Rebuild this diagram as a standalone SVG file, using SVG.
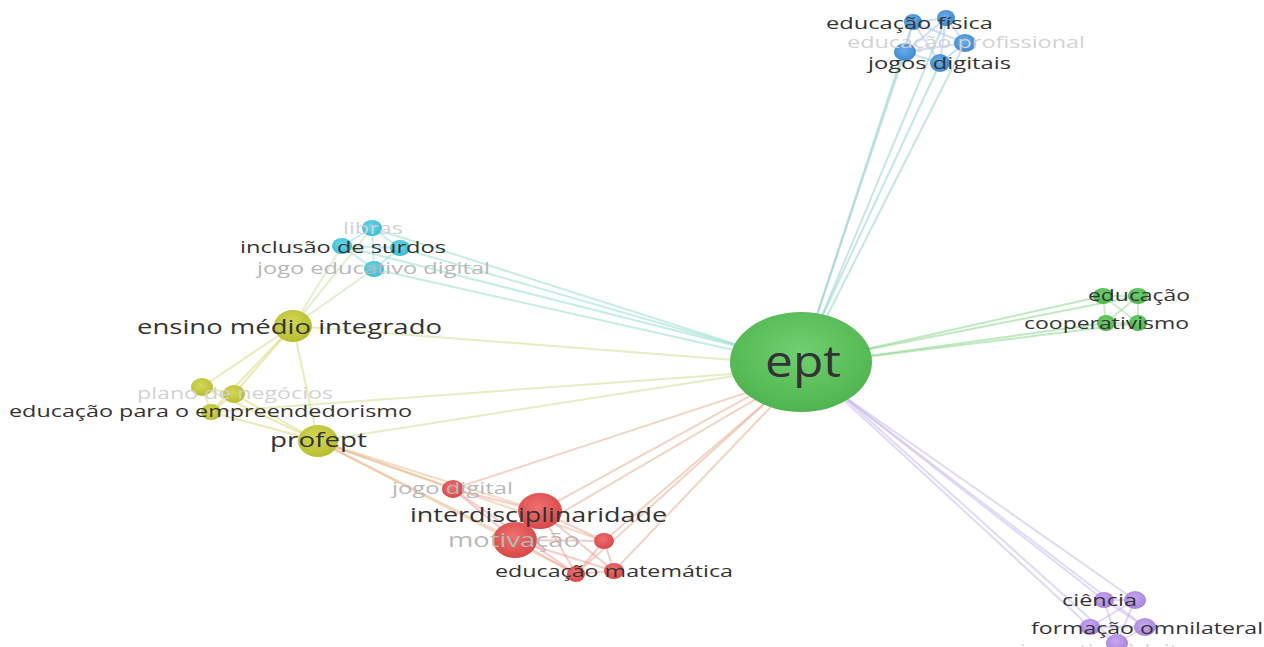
<svg xmlns="http://www.w3.org/2000/svg" width="1264" height="647" viewBox="0 0 1264 647">
<defs>
<radialGradient id="gGreen" cx="50%" cy="40%" r="60%"><stop offset="0" stop-color="#6fd06f"/><stop offset="1" stop-color="#4fb44f"/></radialGradient>
<radialGradient id="gBlue" cx="45%" cy="40%" r="60%"><stop offset="0" stop-color="#6aaee8"/><stop offset="1" stop-color="#3f88cf"/></radialGradient>
<radialGradient id="gCyan" cx="45%" cy="40%" r="60%"><stop offset="0" stop-color="#6fd6ea"/><stop offset="1" stop-color="#36bcd6"/></radialGradient>
<radialGradient id="gYellow" cx="45%" cy="40%" r="60%"><stop offset="0" stop-color="#d4d85a"/><stop offset="1" stop-color="#b8bd2e"/></radialGradient>
<radialGradient id="gRed" cx="45%" cy="40%" r="60%"><stop offset="0" stop-color="#f07070"/><stop offset="1" stop-color="#d84848"/></radialGradient>
<radialGradient id="gPurple" cx="45%" cy="40%" r="60%"><stop offset="0" stop-color="#c8a8f0"/><stop offset="1" stop-color="#a884dc"/></radialGradient>
</defs>
<style>
.e{fill:none;stroke-width:2;stroke-opacity:0.5;stroke-linecap:round}
.eb{stroke:#8ccdc8}.ec{stroke:#8edccc}.ey{stroke:#c8de86}.er{stroke:#e8a88a}.eg{stroke:#84d484}.ep{stroke:#c4b4ec}
.iy{stroke:#d6d870}.ir{stroke:#ee9a9a}.ib{stroke:#9cc4ee}.ic{stroke:#8cdcea}.ip{stroke:#c8b0ee}.ig{stroke:#9ad89a}.yr{stroke:#eab888}.yc{stroke:#c6e09a}
text{font-family:"Open Sans","Noto Sans","DejaVu Sans",sans-serif}
.t{fill:#333}.f{fill:#d2d2d2}.m{fill:#b8b8b8}
</style>
<rect width="1264" height="647" fill="#ffffff"/>
<g id="connectors">
<line class="e eb" x1="812" y1="330" x2="905" y2="52"/>
<line class="e eb" x1="812" y1="330" x2="913" y2="22"/>
<line class="e eb" x1="816" y1="330" x2="940" y2="63"/>
<line class="e eb" x1="816" y1="330" x2="946" y2="18"/>
<line class="e eb" x1="820" y1="330" x2="965" y2="43"/>
<line class="e ec" x1="760" y1="352" x2="342" y2="246"/>
<line class="e ec" x1="760" y1="352" x2="372" y2="228"/>
<line class="e ec" x1="760" y1="352" x2="400" y2="248"/>
<line class="e ec" x1="760" y1="356" x2="374" y2="269"/>
<line class="e ey" x1="760" y1="362" x2="293" y2="326"/>
<line class="e ey" x1="760" y1="372" x2="318" y2="441"/>
<line class="e ey" x1="760" y1="372" x2="211" y2="412"/>
<line class="e er" x1="770" y1="385" x2="453" y2="489"/>
<line class="e er" x1="770" y1="385" x2="540" y2="511"/>
<line class="e er" x1="775" y1="388" x2="515" y2="540"/>
<line class="e er" x1="780" y1="390" x2="604" y2="541"/>
<line class="e er" x1="780" y1="390" x2="576" y2="574"/>
<line class="e er" x1="785" y1="392" x2="614" y2="571"/>
<line class="e eg" x1="840" y1="355" x2="1103" y2="296"/>
<line class="e eg" x1="840" y1="355" x2="1138" y2="296"/>
<line class="e eg" x1="840" y1="360" x2="1106" y2="323"/>
<line class="e eg" x1="840" y1="360" x2="1138" y2="323"/>
<line class="e ep" x1="835" y1="390" x2="1104" y2="600"/>
<line class="e ep" x1="835" y1="390" x2="1135" y2="600"/>
<line class="e ep" x1="835" y1="392" x2="1090" y2="627"/>
<line class="e ep" x1="838" y1="392" x2="1145" y2="627"/>
<line class="e ep" x1="838" y1="392" x2="1117" y2="643"/>
<line class="e ib" x1="905" y1="52" x2="913" y2="22"/>
<line class="e ib" x1="905" y1="52" x2="946" y2="18"/>
<line class="e ib" x1="905" y1="52" x2="965" y2="43"/>
<line class="e ib" x1="905" y1="52" x2="940" y2="63"/>
<line class="e ib" x1="913" y1="22" x2="946" y2="18"/>
<line class="e ib" x1="913" y1="22" x2="965" y2="43"/>
<line class="e ib" x1="913" y1="22" x2="940" y2="63"/>
<line class="e ib" x1="946" y1="18" x2="965" y2="43"/>
<line class="e ib" x1="946" y1="18" x2="940" y2="63"/>
<line class="e ib" x1="965" y1="43" x2="940" y2="63"/>
<line class="e ic" x1="342" y1="246" x2="372" y2="228"/>
<line class="e ic" x1="342" y1="246" x2="400" y2="248"/>
<line class="e ic" x1="342" y1="246" x2="374" y2="269"/>
<line class="e ic" x1="372" y1="228" x2="400" y2="248"/>
<line class="e ic" x1="372" y1="228" x2="374" y2="269"/>
<line class="e ic" x1="400" y1="248" x2="374" y2="269"/>
<line class="e yc" x1="293" y1="326" x2="342" y2="246"/>
<line class="e yc" x1="293" y1="326" x2="372" y2="228"/>
<line class="e yc" x1="293" y1="326" x2="374" y2="269"/>
<line class="e iy" x1="293" y1="326" x2="318" y2="441"/>
<line class="e iy" x1="293" y1="326" x2="202" y2="387"/>
<line class="e iy" x1="293" y1="326" x2="234" y2="394"/>
<line class="e iy" x1="293" y1="326" x2="211" y2="412"/>
<line class="e iy" x1="202" y1="387" x2="234" y2="394"/>
<line class="e iy" x1="202" y1="387" x2="211" y2="412"/>
<line class="e iy" x1="234" y1="394" x2="211" y2="412"/>
<line class="e iy" x1="318" y1="441" x2="202" y2="387"/>
<line class="e iy" x1="318" y1="441" x2="234" y2="394"/>
<line class="e iy" x1="318" y1="441" x2="211" y2="412"/>
<line class="e yr" x1="318" y1="441" x2="453" y2="489"/>
<line class="e yr" x1="318" y1="441" x2="540" y2="511"/>
<line class="e yr" x1="318" y1="441" x2="515" y2="540"/>
<line class="e yr" x1="318" y1="441" x2="576" y2="574"/>
<line class="e yr" x1="318" y1="441" x2="604" y2="541"/>
<line class="e ir" x1="453" y1="489" x2="540" y2="511"/>
<line class="e ir" x1="453" y1="489" x2="515" y2="540"/>
<line class="e ir" x1="453" y1="489" x2="576" y2="574"/>
<line class="e ir" x1="540" y1="511" x2="515" y2="540"/>
<line class="e ir" x1="540" y1="511" x2="604" y2="541"/>
<line class="e ir" x1="540" y1="511" x2="576" y2="574"/>
<line class="e ir" x1="540" y1="511" x2="614" y2="571"/>
<line class="e ir" x1="515" y1="540" x2="604" y2="541"/>
<line class="e ir" x1="515" y1="540" x2="576" y2="574"/>
<line class="e ir" x1="515" y1="540" x2="614" y2="571"/>
<line class="e ir" x1="604" y1="541" x2="576" y2="574"/>
<line class="e ir" x1="604" y1="541" x2="614" y2="571"/>
<line class="e ir" x1="576" y1="574" x2="614" y2="571"/>
<line class="e ig" x1="1103" y1="296" x2="1138" y2="296"/>
<line class="e ig" x1="1103" y1="296" x2="1138" y2="323"/>
<line class="e ig" x1="1106" y1="323" x2="1138" y2="296"/>
<line class="e ig" x1="1106" y1="323" x2="1138" y2="323"/>
<line class="e ig" x1="1103" y1="296" x2="1106" y2="323"/>
<line class="e ig" x1="1138" y1="296" x2="1138" y2="323"/>
<line class="e ip" x1="1104" y1="600" x2="1135" y2="600"/>
<line class="e ip" x1="1104" y1="600" x2="1145" y2="627"/>
<line class="e ip" x1="1104" y1="600" x2="1117" y2="643"/>
<line class="e ip" x1="1135" y1="600" x2="1090" y2="627"/>
<line class="e ip" x1="1135" y1="600" x2="1117" y2="643"/>
<line class="e ip" x1="1090" y1="627" x2="1145" y2="627"/>
<line class="e ip" x1="1090" y1="627" x2="1117" y2="643"/>
<line class="e ip" x1="1145" y1="627" x2="1117" y2="643"/>
</g>
<g id="node-ept"><ellipse cx="801" cy="362" rx="71" ry="50" fill="url(#gGreen)"/><text class="t" x="765" y="377" font-size="44" textLength="76" lengthAdjust="spacingAndGlyphs">ept</text></g>
<g id="node-educacao-fisica"><ellipse cx="913" cy="22" rx="9" ry="8" fill="url(#gBlue)"/><ellipse cx="946" cy="18" rx="9" ry="8" fill="url(#gBlue)"/></g>
<g id="node-educacao-profissional"><ellipse cx="965" cy="43" rx="11" ry="9" fill="url(#gBlue)"/></g>
<g id="node-jogos-digitais"><ellipse cx="905" cy="52" rx="11" ry="9" fill="url(#gBlue)"/><ellipse cx="940" cy="63" rx="10" ry="9" fill="url(#gBlue)"/></g>
<g id="node-libras"><ellipse cx="372" cy="228" rx="10" ry="8" fill="url(#gCyan)"/></g>
<g id="node-inclusao-de-surdos"><ellipse cx="342" cy="246" rx="10" ry="8" fill="url(#gCyan)"/><ellipse cx="400" cy="248" rx="10" ry="8" fill="url(#gCyan)"/></g>
<g id="node-jogo-educativo-digital"><ellipse cx="374" cy="269" rx="10" ry="8" fill="url(#gCyan)"/></g>
<g id="node-ensino-medio-integrado"><ellipse cx="293" cy="326" rx="19" ry="16" fill="url(#gYellow)"/></g>
<g id="node-plano-de-negocios"><ellipse cx="202" cy="387" rx="11" ry="9" fill="url(#gYellow)"/><ellipse cx="234" cy="394" rx="11" ry="9" fill="url(#gYellow)"/></g>
<g id="node-educacao-para-o-empreendedorismo"><ellipse cx="211" cy="412" rx="10" ry="8" fill="url(#gYellow)"/></g>
<g id="node-profept"><ellipse cx="318" cy="441" rx="20" ry="16" fill="url(#gYellow)"/></g>
<g id="node-jogo-digital"><ellipse cx="453" cy="489" rx="11" ry="9" fill="url(#gRed)"/></g>
<g id="node-interdisciplinaridade"><ellipse cx="540" cy="511" rx="22" ry="18" fill="url(#gRed)"/></g>
<g id="node-motivacao"><ellipse cx="515" cy="540" rx="22" ry="18" fill="url(#gRed)"/><ellipse cx="604" cy="541" rx="10" ry="8" fill="url(#gRed)"/></g>
<g id="node-educacao-matematica"><ellipse cx="576" cy="574" rx="9" ry="8" fill="url(#gRed)"/><ellipse cx="614" cy="571" rx="10" ry="8" fill="url(#gRed)"/></g>
<g id="node-educacao"><ellipse cx="1103" cy="296" rx="10" ry="8" fill="url(#gGreen)"/><ellipse cx="1138" cy="296" rx="10" ry="8" fill="url(#gGreen)"/></g>
<g id="node-cooperativismo"><ellipse cx="1106" cy="323" rx="9" ry="8" fill="url(#gGreen)"/><ellipse cx="1138" cy="323" rx="9" ry="8" fill="url(#gGreen)"/></g>
<g id="node-ciencia"><ellipse cx="1104" cy="600" rx="10" ry="8" fill="url(#gPurple)"/><ellipse cx="1135" cy="600" rx="11" ry="9" fill="url(#gPurple)"/></g>
<g id="node-formacao-omnilateral"><ellipse cx="1090" cy="627" rx="10" ry="8" fill="url(#gPurple)"/><ellipse cx="1145" cy="627" rx="11" ry="9" fill="url(#gPurple)"/></g>
<g id="node-bottom"><ellipse cx="1117" cy="643" rx="11" ry="9" fill="url(#gPurple)"/></g>
<g id="labels">
<text class="t" x="826" y="29" font-size="17" textLength="167" lengthAdjust="spacingAndGlyphs">educação física</text>
<text class="f" x="847" y="48" font-size="17" textLength="238" lengthAdjust="spacingAndGlyphs">educação profissional</text>
<text class="t" x="868" y="69" font-size="17" textLength="143" lengthAdjust="spacingAndGlyphs">jogos digitais</text>
<text class="f" x="343" y="234" font-size="17" textLength="60" lengthAdjust="spacingAndGlyphs">libras</text>
<text class="t" x="240" y="253" font-size="17" textLength="206" lengthAdjust="spacingAndGlyphs">inclusão de surdos</text>
<text class="m" x="257" y="274" font-size="17" textLength="233" lengthAdjust="spacingAndGlyphs">jogo educativo digital</text>
<text class="t" x="137" y="334" font-size="20" textLength="305" lengthAdjust="spacingAndGlyphs">ensino médio integrado</text>
<text class="f" x="137" y="399" font-size="17" textLength="196" lengthAdjust="spacingAndGlyphs">plano de negócios</text>
<text class="t" x="9" y="417" font-size="17" textLength="403" lengthAdjust="spacingAndGlyphs">educação para o empreendedorismo</text>
<text class="t" x="270" y="447" font-size="20" textLength="97" lengthAdjust="spacingAndGlyphs">profept</text>
<text class="m" x="392" y="494" font-size="17" textLength="121" lengthAdjust="spacingAndGlyphs">jogo digital</text>
<text class="t" x="410" y="522" font-size="20" textLength="257" lengthAdjust="spacingAndGlyphs">interdisciplinaridade</text>
<text class="m" x="448" y="547" font-size="20" textLength="132" lengthAdjust="spacingAndGlyphs">motivação</text>
<text class="t" x="495" y="577" font-size="17" textLength="238" lengthAdjust="spacingAndGlyphs">educação matemática</text>
<text class="t" x="1088" y="301" font-size="17" textLength="102" lengthAdjust="spacingAndGlyphs">educação</text>
<text class="t" x="1024" y="329" font-size="17" textLength="165" lengthAdjust="spacingAndGlyphs">cooperativismo</text>
<text class="t" x="1062" y="606" font-size="17" textLength="75" lengthAdjust="spacingAndGlyphs">ciência</text>
<text class="t" x="1031" y="634" font-size="17" textLength="232" lengthAdjust="spacingAndGlyphs">formação omnilateral</text>
<text class="f" x="1020" y="656" font-size="17" textLength="195" lengthAdjust="spacingAndGlyphs">incentivo à leitura</text>
</g>
</svg>
